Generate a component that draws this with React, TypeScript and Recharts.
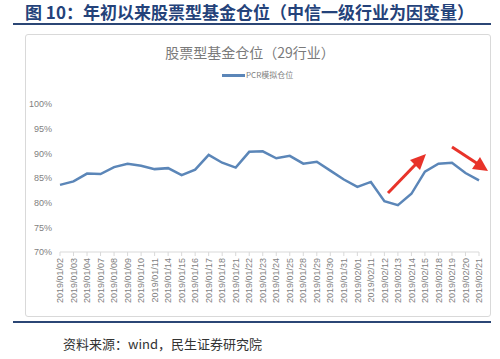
import React from 'react';
import { LineChart, Line, XAxis, YAxis } from 'recharts';

// trading days since the start of 2019
const dates = [
  '2019/01/02', '2019/01/03', '2019/01/04', '2019/01/07', '2019/01/08', '2019/01/09',
  '2019/01/10', '2019/01/11', '2019/01/14', '2019/01/15', '2019/01/16', '2019/01/17',
  '2019/01/18', '2019/01/21', '2019/01/22', '2019/01/23', '2019/01/24', '2019/01/25',
  '2019/01/28', '2019/01/29', '2019/01/30', '2019/01/31', '2019/02/01', '2019/02/11',
  '2019/02/12', '2019/02/13', '2019/02/14', '2019/02/15', '2019/02/18', '2019/02/19',
  '2019/02/20', '2019/02/21',
];

// PCR simulated position, %
const pcrPosition = [
  83.6, 84.3, 85.9, 85.8, 87.2, 87.9, 87.5, 86.8, 87.0, 85.6, 86.7, 89.7,
  88.1, 87.1, 90.3, 90.4, 89.0, 89.5, 87.9, 88.3, 86.5, 84.7, 83.2, 84.2,
  80.3, 79.5, 81.8, 86.3, 87.9, 88.1, 86.0, 84.5,
];

const yTicks = [70, 75, 80, 85, 90, 95, 100];

const data = dates.map((d, i) => ({ date: d, pcr: pcrPosition[i] }));

const LINE = '#5b86b8';
const TICK = '#7f7f7f';
const FONT = '"Noto Sans CJK SC", "Noto Sans", sans-serif';

const DateTick = (props: any) => {
  const { x, y, payload } = props;
  return (
    <g transform={`translate(${x},${y})`}>
      <text
        transform="rotate(-90)"
        textAnchor="end"
        dy="0.35em"
        fontSize={9}
        fill={TICK}
        fontFamily="Arial, 'Liberation Sans', sans-serif"
      >
        {payload.value}
      </text>
    </g>
  );
};

export default function App() {
  return (
    <div style={{ position: 'absolute', left: 0, top: 0, width: 500, height: 359, background: '#fff', fontFamily: FONT }}>
      {/* figure header */}
      <div style={{ position: 'absolute', left: 25, top: 0, fontSize: 17, fontWeight: 700, color: '#24427a', lineHeight: '23px', whiteSpace: 'nowrap' }}>
        图 10：年初以来股票型基金仓位（中信一级行业为因变量）
      </div>
      <div style={{ position: 'absolute', left: 13, top: 23, width: 478, height: 2, background: '#2b4675' }} />

      {/* chart frame */}
      <div style={{ position: 'absolute', left: 25, top: 34, width: 464, height: 281, border: '1px solid #d9d9d9', borderRadius: 3 }} />

      <div style={{ position: 'absolute', left: 0, top: 42, width: 500, textAlign: 'center', fontSize: 14, color: '#7a7a7a', whiteSpace: 'nowrap' }}>
        股票型基金仓位（29行业）
      </div>

      {/* legend */}
      <div style={{ position: 'absolute', left: 222, top: 74, width: 23, height: 2.5, background: LINE }} />
      <div style={{ position: 'absolute', left: 246, top: 69, fontSize: 8, color: TICK, whiteSpace: 'nowrap', lineHeight: '12px' }}>
        PCR模拟仓位
      </div>

      <div style={{ position: 'absolute', left: 0, top: 0 }}>
        <LineChart width={500} height={359} data={data} margin={{ top: 104, right: 21, bottom: 52, left: 10 }}>
          <XAxis
            dataKey="date"
            interval={0}
            height={55}
            axisLine={{ stroke: '#d9d9d9' }}
            tickLine={{ stroke: '#d9d9d9' }}
            tickSize={4}
            tick={<DateTick />}
          />
          <YAxis
            width={50}
            domain={[70, 100]}
            ticks={yTicks}
            axisLine={false}
            tickLine={false}
            tickFormatter={(v: number) => `${v}%`}
            tick={{ fontSize: 9, fill: TICK, fontFamily: 'Arial, "Liberation Sans", sans-serif' }}
          />
          <Line
            type="linear"
            dataKey="pcr"
            stroke={LINE}
            strokeWidth={2.5}
            dot={false}
            isAnimationActive={false}
          />
        </LineChart>
      </div>

      {/* red annotation arrows */}
      <svg width={500} height={359} style={{ position: 'absolute', left: 0, top: 0, pointerEvents: 'none' }}>
        <line x1={388} y1={193} x2={417} y2={163} stroke="#e8332a" strokeWidth={3} />
        <polygon points="426,154 410,160 420,170" fill="#e8332a" />
        <line x1={452} y1={147} x2={478} y2={164} stroke="#e8332a" strokeWidth={3} />
        <polygon points="488,171 472,169 480,157" fill="#e8332a" />
      </svg>

      <div style={{ position: 'absolute', left: 13, top: 321, width: 478, height: 2, background: '#2b4675' }} />
      <div style={{ position: 'absolute', left: 63, top: 334, fontSize: 13, color: '#333', whiteSpace: 'nowrap' }}>
        资料来源：wind，民生证券研究院
      </div>
    </div>
  );
}
